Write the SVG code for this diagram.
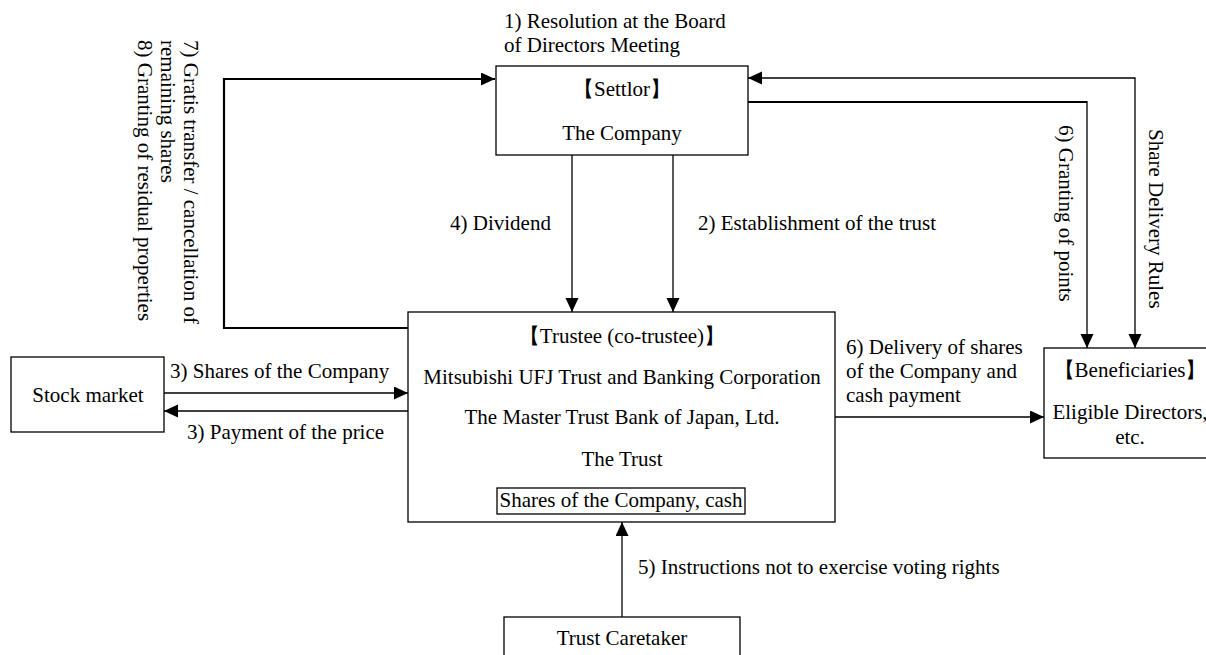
<svg xmlns="http://www.w3.org/2000/svg" width="1206" height="655" viewBox="0 0 1206 655">
<style>
text{font-family:"Liberation Serif","Times New Roman",serif;font-size:21px;fill:#000}
.c{text-anchor:middle}
.box{fill:#fff;stroke:#000;stroke-width:1.3}
.ln{fill:none;stroke:#000;stroke-width:1.3}
.th{fill:none;stroke:#000;stroke-width:2.2}
</style>
<defs>
<marker id="ah" markerUnits="userSpaceOnUse" markerWidth="15" markerHeight="14" refX="14" refY="6.5" orient="auto-start-reverse">
<path d="M0,0 L14,6.5 L0,13 z" fill="#000"/>
</marker>
</defs>
<rect width="1206" height="655" fill="#fff"/>

<g id="connectors">
<polyline class="th" points="408,328 224,328 224,79 495,79" marker-end="url(#ah)"/>
<polyline class="ln" points="748,78 1135,78 1135,348" marker-start="url(#ah)" marker-end="url(#ah)"/>
<line class="th" x1="748" y1="102" x2="1087" y2="102"/>
<line class="ln" x1="1087" y1="101" x2="1087" y2="348" marker-end="url(#ah)"/>
<line class="ln" x1="572" y1="155" x2="572" y2="312" marker-end="url(#ah)"/>
<line class="ln" x1="673" y1="155" x2="673" y2="312" marker-end="url(#ah)"/>
<line class="ln" x1="164" y1="393" x2="408" y2="393" marker-end="url(#ah)"/>
<line class="ln" x1="408" y1="411" x2="164" y2="411" marker-end="url(#ah)"/>
<line class="ln" x1="835" y1="417" x2="1044" y2="417" marker-end="url(#ah)"/>
<line class="ln" x1="622" y1="617" x2="622" y2="522" marker-end="url(#ah)"/>
</g>

<g id="labels">
<text x="504" y="28">1) Resolution at the Board</text>
<text x="504" y="52">of Directors Meeting</text>
<g transform="translate(184,40) rotate(90)">
<text x="0" y="0">7) Gratis transfer / cancellation of</text>
<text x="0" y="23">remaining shares</text>
<text x="0" y="46">8) Granting of residual properties</text>
</g>
<text transform="translate(1059,125) rotate(90)">6) Granting of points</text>
<text transform="translate(1149,129) rotate(90)">Share Delivery Rules</text>
<text x="450" y="230">4) Dividend</text>
<text x="698" y="230">2) Establishment of the trust</text>
<text x="170" y="378">3) Shares of the Company</text>
<text x="187" y="439">3) Payment of the price</text>
<text x="846" y="354">6) Delivery of shares</text>
<text x="846" y="378">of the Company and</text>
<text x="846" y="402">cash payment</text>
<text x="638" y="574">5) Instructions not to exercise voting rights</text>
</g>

<g id="settlor">
<rect class="box" x="496" y="66" width="252" height="89"/>
<text class="c" x="622" y="96">【Settlor】</text>
<text class="c" x="622" y="140">The Company</text>
</g>

<g id="trustee">
<rect class="box" x="408" y="312" width="427" height="210"/>
<text class="c" x="622" y="343">【Trustee (co-trustee)】</text>
<text class="c" x="622" y="384">Mitsubishi UFJ Trust and Banking Corporation</text>
<text class="c" x="622" y="424">The Master Trust Bank of Japan, Ltd.</text>
<text class="c" x="622" y="466">The Trust</text>
<rect class="box" x="497" y="488" width="248" height="26"/>
<text class="c" x="621" y="507">Shares of the Company, cash</text>
</g>

<g id="stock-market">
<rect class="box" x="11" y="357" width="153" height="75"/>
<text class="c" x="88" y="402">Stock market</text>
</g>

<g id="beneficiaries">
<rect class="box" x="1044" y="348" width="172" height="110"/>
<text class="c" x="1130" y="377">【Beneficiaries】</text>
<text class="c" x="1130" y="419">Eligible Directors,</text>
<text class="c" x="1130" y="444">etc.</text>
</g>

<g id="trust-caretaker">
<rect class="box" x="504" y="617" width="236" height="50"/>
<text class="c" x="622" y="645">Trust Caretaker</text>
</g>
</svg>
